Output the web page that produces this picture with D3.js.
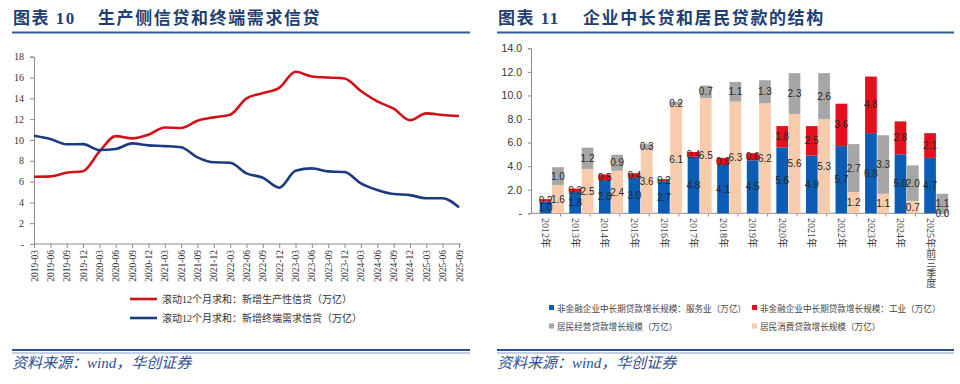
<!DOCTYPE html>
<html>
<head>
<meta charset="utf-8">
<script src="https://cdn.jsdelivr.net/npm/d3@7"></script>
<style>
  body { margin: 0; background: #fff; }
  svg { display: block; }
</style>
</head>
<body>
<div id="chart"></div>
<script>
// left chart: quarterly, 12-month rolling sums (万亿)
const quarters = ['2019-03','2019-06','2019-09','2019-12','2020-03','2020-06','2020-09','2020-12',
  '2021-03','2021-06','2021-09','2021-12','2022-03','2022-06','2022-09','2022-12',
  '2023-03','2023-06','2023-09','2023-12','2024-03','2024-06','2024-09','2024-12',
  '2025-03','2025-06','2025-09'];
const productive = [6.46, 6.5, 6.85, 7.0, 8.87, 10.37, 10.15, 10.5, 11.2, 11.15, 11.85, 12.17,
  12.42, 14.0, 14.5, 15.0, 16.55, 16.1, 16.0, 15.9, 14.7, 13.7, 13.0, 11.9, 12.55, 12.4, 12.3];
const demand = [10.4, 10.09, 9.58, 9.6, 9.03, 9.13, 9.67, 9.48, 9.41, 9.29, 8.33, 7.85,
  7.81, 6.79, 6.37, 5.41, 7.04, 7.27, 6.98, 6.92, 5.83, 5.19, 4.8, 4.7, 4.39, 4.4, 3.52];
const lineNames = ['滚动12个月求和：新增生产性信贷（万亿）', '滚动12个月求和：新增终端需求信贷（万亿）'];

// right chart: yearly (万亿)
const years = ['2012年','2013年','2014年','2015年','2016年','2017年','2018年','2019年',
  '2020年','2021年','2022年','2023年','2024年','2025年前三季度'];
const service  = [1.0, 1.8, 2.8, 3.0, 2.7, 4.8, 4.1, 4.5, 5.6, 4.9, 5.7, 6.8, 5.0, 4.7];
const industry = [0.2, 0.3, 0.5, 0.4, 0.2, 0.4, 0.6, 0.6, 1.8, 2.5, 3.6, 4.8, 2.8, 2.1];
const consumer = [1.6, 2.5, 2.4, 3.6, 6.1, 6.5, 6.3, 6.2, 5.6, 5.3, 1.2, 1.1, 0.7, 0.0];
const business = [1.0, 1.2, 0.9, 0.3, 0.2, 0.7, 1.1, 1.3, 2.3, 2.6, 2.7, 3.3, 2.0, 1.1];
const barNames = ['非金融企业中长期贷款增长规模：服务业（万亿）', '非金融企业中长期贷款增长规模：工业（万亿）',
  '居民经营贷款增长规模（万亿）', '居民消费贷款增长规模（万亿）'];

const width = 960, height = 384;
const red = '#d0121b', navy = '#1c3a7e';
const barColors = { service: '#0b5cb5', industry: '#e5101d', business: '#a6a6a6', consumer: '#f8cbad' };
const titleBlue = '#1f3f73', ruleBlue = '#2e5c99';
const serif = '"Liberation Serif","Noto Sans CJK SC",serif';
const sans = '"Noto Sans CJK SC","Liberation Sans",sans-serif';

const svg = d3.select('#chart').append('svg')
  .attr('width', width).attr('height', height)
  .style('background', '#fff');

// ---- headers and footers ----
let header = (x0, x1, num, title) => {
  svg.append('text').attr('x', x0 + 1).attr('y', 24)
    .attr('font-family', serif).attr('font-weight', 700).attr('font-size', 17)
    .attr('fill', titleBlue).attr('letter-spacing', 1.5)
    .text('图表 ' + num);
  svg.append('text').attr('x', x0 + 86).attr('y', 24)
    .attr('font-family', serif).attr('font-weight', 700).attr('font-size', 17)
    .attr('fill', titleBlue).attr('letter-spacing', 1.6)
    .text(title);
  svg.append('line').attr('x1', x0).attr('x2', x1).attr('y1', 32.5).attr('y2', 32.5)
    .attr('stroke', ruleBlue).attr('stroke-width', 2);
  svg.append('line').attr('x1', x0).attr('x2', x1).attr('y1', 350).attr('y2', 350)
    .attr('stroke', '#2a4f86').attr('stroke-width', 2);
  svg.append('line').attr('x1', x0).attr('x2', x1).attr('y1', 353).attr('y2', 353)
    .attr('stroke', '#6d8bb8').attr('stroke-width', 0.8);
  svg.append('text').attr('x', x0).attr('y', 368)
    .attr('font-family', serif).attr('font-style', 'italic').attr('font-size', 15)
    .attr('fill', '#2f4f8f')
    .text('资料来源：wind，华创证券');
};
header(12, 470, '10', '生产侧信贷和终端需求信贷');
header(497, 954, '11', '企业中长贷和居民贷款的结构');

// ---- left chart ----
const x1 = d3.scalePoint().domain(quarters).range([34, 459]);
const y1 = d3.scaleLinear().domain([0, 18]).range([244, 56.7]);

const gL = svg.append('g');
gL.append('g').attr('transform', 'translate(34,0)')
  .call(d3.axisLeft(y1).tickValues(d3.range(0, 19, 2)).tickSize(4).tickPadding(6)
    .tickFormat(d => d === 0 ? '-' : d))
  .call(g => g.select('.domain').attr('stroke', '#8c8c8c'))
  .call(g => g.selectAll('line').attr('stroke', '#8c8c8c'))
  .call(g => g.selectAll('text').attr('font-family', serif).attr('font-size', 10).attr('fill', '#333'));

gL.append('g').attr('transform', 'translate(0,244)')
  .call(d3.axisBottom(x1).tickSize(4).tickSizeOuter(0))
  .call(g => g.select('.domain').attr('stroke', '#8c8c8c').attr('d', 'M34,0H461'))
  .call(g => g.selectAll('line').attr('stroke', '#8c8c8c'))
  .call(g => g.selectAll('text')
    .attr('font-family', serif).attr('font-size', 9.5).attr('fill', '#333')
    .attr('text-anchor', 'end').attr('dy', null).attr('y', 0)
    .attr('dominant-baseline', 'central')
    .attr('transform', 'translate(0,6) rotate(-90)'));

const line = d3.line().x((d, i) => x1(quarters[i])).y(d => y1(d)).curve(d3.curveMonotoneX);
[[productive, red], [demand, navy]].forEach(([vals, c]) => {
  gL.append('path').datum(vals).attr('d', line)
    .attr('fill', 'none').attr('stroke', c).attr('stroke-width', 2.6);
});

lineNames.forEach((name, i) => {
  const y = 299 + i * 19;
  gL.append('line').attr('x1', 130).attr('x2', 157).attr('y1', y).attr('y2', y)
    .attr('stroke', i === 0 ? red : navy).attr('stroke-width', 2.6);
  gL.append('text').attr('x', 162).attr('y', y).attr('dominant-baseline', 'central')
    .attr('font-family', serif).attr('font-size', 10).attr('fill', '#333').text(name);
});

// ---- right chart ----
const xb = d3.scaleBand().domain(years).range([531, 945]);
const yb = d3.scaleLinear().domain([0, 14]).range([213.3, 48.3]);
// household bars are drawn against a second (hidden) axis, as in the source workbook
const yb2 = d3.scaleLinear().domain([0, 9.3]).range([213.3, 48.3]);
const bw = 11.7;

const gR = svg.append('g');
gR.append('g').attr('transform', 'translate(531,0)')
  .call(d3.axisLeft(yb).tickValues(d3.range(0, 15, 2)).tickSize(3).tickPadding(6)
    .tickFormat(d => d === 0 ? '-' : d3.format('.1f')(d)))
  .call(g => g.select('.domain').attr('stroke', '#8c8c8c'))
  .call(g => g.selectAll('line').attr('stroke', '#8c8c8c'))
  .call(g => g.selectAll('text').attr('font-family', '"Liberation Sans",sans-serif')
    .attr('font-size', 10.5).attr('fill', '#333'));

gR.append('line').attr('x1', 531).attr('x2', 945).attr('y1', 213.3).attr('y2', 213.3)
  .attr('stroke', '#8c8c8c');
gR.selectAll('.xtick').data(years).join('line')
  .attr('class', 'xtick')
  .attr('x1', d => xb(d) + xb.bandwidth()).attr('x2', d => xb(d) + xb.bandwidth())
  .attr('y1', 213.3).attr('y2', 216.5).attr('stroke', '#8c8c8c');

const rows = years.map((yr, i) => ({
  yr,
  segs: [
    { key: 'service', v: service[i], y0: 0, y1: service[i], s: yb, dx: -6 },
    { key: 'industry', v: industry[i], y0: service[i], y1: service[i] + industry[i], s: yb, dx: -6 },
    { key: 'consumer', v: consumer[i], y0: 0, y1: consumer[i], s: yb2, dx: 6.3 },
    { key: 'business', v: business[i], y0: consumer[i], y1: consumer[i] + business[i], s: yb2, dx: 6.3 },
  ]
}));
const segs = rows.flatMap(r => r.segs.map(s => ({ ...s, yr: r.yr })));
const cx = d => xb(d.yr) + xb.bandwidth() / 2;

gR.selectAll('rect.bar').data(segs).join('rect')
  .attr('class', 'bar')
  .attr('x', d => cx(d) + d.dx)
  .attr('width', bw)
  .attr('y', d => d.s(d.y1))
  .attr('height', d => d.s(d.y0) - d.s(d.y1))
  .attr('fill', d => barColors[d.key]);

gR.selectAll('text.val').data(segs).join('text')
  .attr('class', 'val')
  .attr('x', d => cx(d) + d.dx + bw / 2)
  .attr('y', d => (d.s(d.y0) + d.s(d.y1)) / 2)
  .attr('text-anchor', 'middle').attr('dominant-baseline', 'central')
  .attr('font-family', '"Liberation Sans",sans-serif').attr('font-size', 10)
  .attr('fill', '#262626')
  .text(d => d3.format('.1f')(d.v));

// category labels, turned to read downwards
years.forEach(yr => {
  const x = xb(yr) + xb.bandwidth() / 2;
  const m = yr.match(/^(\d+年)(.*)$/);
  const t = gR.append('text')
    .attr('transform', `translate(${x},218) rotate(90)`)
    .attr('dominant-baseline', 'central')
    .attr('font-family', serif).attr('font-size', 10).attr('fill', '#444')
    .text(m[1]);
  if (m[2]) {
    const len = t.node().getComputedTextLength();
    gR.append('text')
      .attr('x', x).attr('y', 218 + len)
      .style('writing-mode', 'vertical-rl')
      .attr('font-family', serif).attr('font-size', 10).attr('fill', '#444')
      .text(m[2]);
  }
});

const legendPos = [[549, 307.5], [752, 307.5], [549, 326], [752, 326]];
const legendKeys = ['service', 'industry', 'business', 'consumer'];
barNames.forEach((name, i) => {
  const [lx, ly] = legendPos[i];
  gR.append('rect').attr('x', lx).attr('y', ly - 2.5).attr('width', 5).attr('height', 5)
    .attr('fill', barColors[legendKeys[i]]);
  gR.append('text').attr('x', lx + 8).attr('y', ly).attr('dominant-baseline', 'central')
    .attr('font-family', sans).attr('font-size', 8.6).attr('fill', '#444').text(name);
});
</script>
</body>
</html>
